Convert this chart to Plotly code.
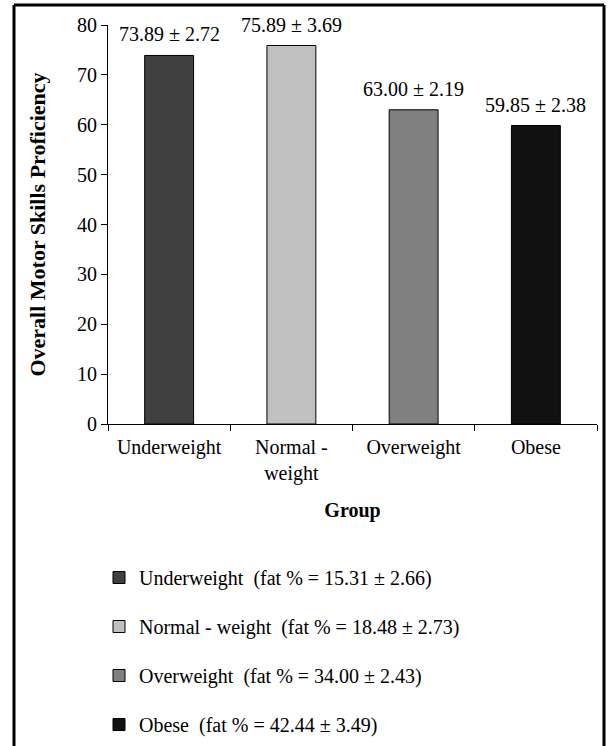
import plotly.graph_objects as go

# ---- data ----
groups = ["Underweight", "Normal - weight", "Overweight", "Obese"]
tick_labels = ["Underweight", "Normal -<br>weight", "Overweight", "Obese"]
motor_mean = [73.89, 75.89, 63.00, 59.85]
motor_sd = [2.72, 3.69, 2.19, 2.38]
fat_mean = [15.31, 18.48, 34.00, 42.44]
fat_sd = [2.66, 2.73, 2.43, 3.49]
colors = ["#404040", "#c0c0c0", "#808080", "#111111"]

FONT = "Liberation Serif, Times New Roman, serif"
FS = 20

fig = go.Figure()
for i, g in enumerate(groups):
    fig.add_trace(go.Bar(
        x=[tick_labels[i]], y=[motor_mean[i]],
        name=f"{g}  (fat % = {fat_mean[i]:.2f} ± {fat_sd[i]:.2f})",
        legendgroup=g,
        marker=dict(color=colors[i], line=dict(color="#000000", width=1)),
        width=0.4,
        hoverinfo="skip",
    ))
    fig.add_annotation(
        x=tick_labels[i], y=motor_mean[i],
        text=f"{motor_mean[i]:.2f} ± {motor_sd[i]:.2f}",
        showarrow=False, yanchor="bottom", yshift=8,
        font=dict(family=FONT, size=FS, color="#000000"),
    )

L, R, T, B = 108, 14, 25, 322
W, H = 611, 746
pw, ph = W - L - R, H - T - B

def px_x(p):
    return (p - L) / pw

def px_y(p):
    return (H - B - p) / ph

border = dict(color="#000000", width=3)
for (xa, ya, xb, yb) in [(14, 5, 14, 746), (14, 5, 604, 5), (604, 5, 604, 746)]:
    fig.add_shape(type="line", xref="paper", yref="paper",
                  x0=px_x(xa), y0=px_y(ya), x1=px_x(xb), y1=px_y(yb),
                  line=border, layer="above")

fig.update_layout(
    width=W, height=H,
    margin=dict(l=L, r=R, t=T, b=B, autoexpand=False),
    paper_bgcolor="#ffffff", plot_bgcolor="#ffffff",
    font=dict(family=FONT, size=FS, color="#000000"),
    bargap=0.6,
    showlegend=True,
    legend=dict(
        x=px_x(99), xanchor="left", y=px_y(558), yanchor="top",
        orientation="v", tracegroupgap=20, itemwidth=30,
        font=dict(family=FONT, size=FS, color="#000000"),
        bgcolor="rgba(0,0,0,0)",
    ),
    xaxis=dict(
        type="category", tickson="boundaries", ticks="outside", ticklen=6,
        tickcolor="#000000", showline=True, linecolor="#000000", linewidth=1,
        showgrid=False, zeroline=False, ticklabelstandoff=5,
        tickfont=dict(family=FONT, size=FS),
        title=dict(text="<b>Group</b>", font=dict(family=FONT, size=FS), standoff=18),
    ),
    yaxis=dict(
        range=[0, 80], dtick=10, ticks="outside", ticklen=6, tickcolor="#000000",
        showline=True, linecolor="#000000", linewidth=1, showgrid=False, zeroline=False,
        tickfont=dict(family=FONT, size=FS),
        title=dict(text="<b>Overall Motor Skills Proficiency</b>",
                   font=dict(family=FONT, size=22), standoff=25),
    ),
)

fig.write_html("out.html", config={"displayModeBar": False},
               post_script="document.body.style.margin='0';document.body.style.overflow='hidden';")
